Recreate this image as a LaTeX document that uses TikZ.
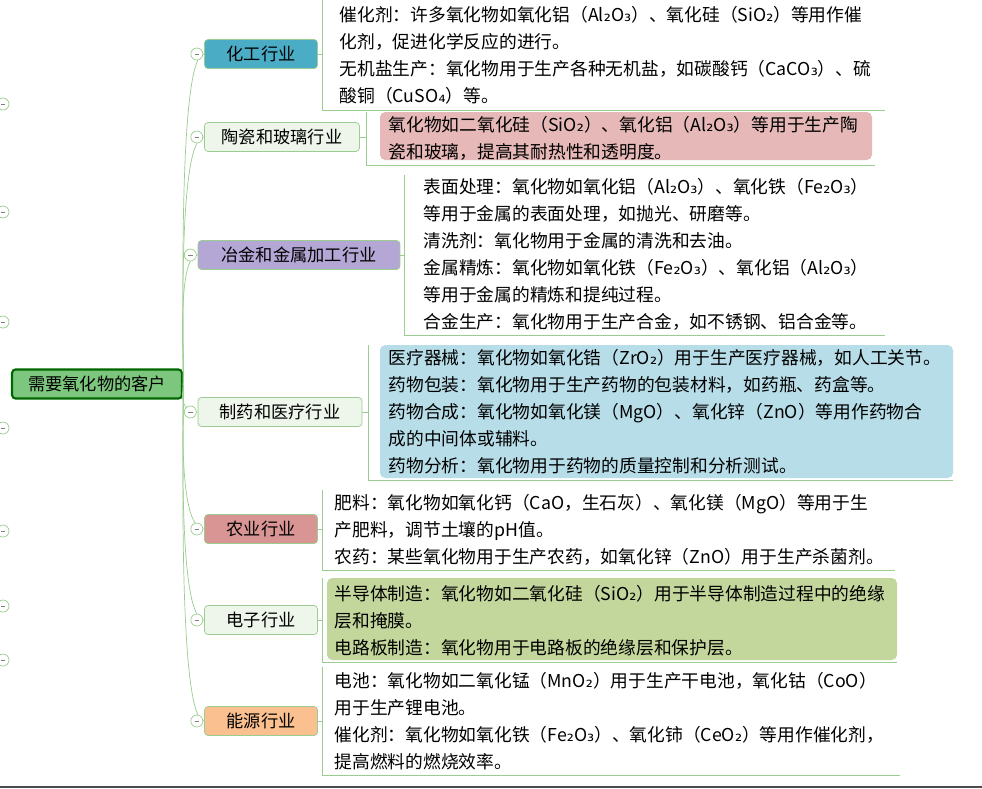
\documentclass[tikz,border=0pt]{standalone}
\usepackage{fontspec}
\newfontfamily\cjk{Noto Sans CJK SC}
\newfontfamily\subf{DejaVu Sans}
\newcommand\sbt[1]{{\subf #1}}
\usetikzlibrary{positioning}
\definecolor{lnk}{HTML}{9ACD8F}
\definecolor{rootc}{HTML}{7DC67D}
\definecolor{tealc}{HTML}{4BACC6}
\definecolor{purc}{HTML}{B4A7D6}
\definecolor{pinkc}{HTML}{D99594}
\definecolor{orac}{HTML}{FAC08F}
\definecolor{pale}{HTML}{EEF5EA}
\definecolor{rosec}{HTML}{E6B8B7}
\definecolor{bluec}{HTML}{B7DDE8}
\definecolor{olivc}{HTML}{C3D69B}
\tikzset{
  branch/.style={draw=lnk, rounded corners=2pt, minimum height=0.58cm, font=\cjk\fontsize{9.8}{12}\selectfont},
  leaf/.style={anchor=north west, align=left, inner sep=3pt, font=\cjk\fontsize{10.1}{15.3}\selectfont},
  knob/.style={draw=lnk, fill=white, circle, inner sep=0pt, minimum size=0.24cm,
    path picture={\draw[gray] ([xshift=-1.3pt]path picture bounding box.center) -- ([xshift=1.3pt]path picture bounding box.center);}},
  link/.style={draw=lnk, thin}
}
\begin{document}
\begin{tikzpicture}[x=0.02cm,y=-0.02cm]
\useasboundingbox (0,0) rectangle (982,788);
\fill[white] (0,0) rectangle (982,788);
\draw[black!70, line width=1.5pt] (0,787) -- (982,787);
% left side stubs
\foreach \yy in {104, 212, 322, 428, 531, 606, 660}
  \node[knob] at (3,\yy) {};
% root
\node[draw=black!60!green, line width=1.2pt, fill=rootc, rounded corners=2pt, minimum width=3.4cm, minimum height=0.58cm, font=\cjk\fontsize{9.8}{12}\selectfont] (root) at (97,384) {需要氧化物的客户};
% branches
\node[branch, fill=tealc, minimum width=2.26cm] (chem) at (261,54) {化工行业};
\node[branch, fill=pale, minimum width=3.1cm] (glass) at (282,137) {陶瓷和玻璃行业};
\node[branch, fill=purc, minimum width=4.04cm] (metal) at (299,255) {冶金和金属加工行业};
\node[branch, fill=pale, minimum width=3.28cm] (med) at (280,412) {制药和医疗行业};
\node[branch, fill=pinkc, minimum width=2.26cm] (farm) at (261,529) {农业行业};
\node[branch, fill=pale, minimum width=2.26cm] (elec) at (261,620) {电子行业};
\node[branch, fill=orac, minimum width=2.26cm] (energy) at (261,721) {能源行业};
\foreach \b in {chem, glass, metal, med, farm, elec, energy}
  \draw[link] (root.east) .. controls (185,384) and (175,0|-\b.west) .. (\b.west);
\foreach \b in {chem, glass, metal, med, farm, elec, energy}
  \node[knob, left=0.02cm of \b.west] {};
% leaves
\node[leaf] (t1) at (334,1) {催化剂：许多氧化物如氧化铝（Al\sbt{₂}O\sbt{₃}）、氧化硅（SiO\sbt{₂}）等用作催\\化剂，促进化学反应的进行。\\无机盐生产：氧化物用于生产各种无机盐，如碳酸钙（CaCO\sbt{₃}）、硫\\酸铜（CuSO\sbt{₄}）等。};
\fill[rosec, rounded corners=3pt] (380,112) rectangle (872,160);
\node[leaf] (t2) at (383,111) {氧化物如二氧化硅（SiO\sbt{₂}）、氧化铝（Al\sbt{₂}O\sbt{₃}）等用于生产陶\\瓷和玻璃，提高其耐热性和透明度。};
\node[leaf] (t3) at (418,173) {表面处理：氧化物如氧化铝（Al\sbt{₂}O\sbt{₃}）、氧化铁（Fe\sbt{₂}O\sbt{₃}）\\等用于金属的表面处理，如抛光、研磨等。\\清洗剂：氧化物用于金属的清洗和去油。\\金属精炼：氧化物如氧化铁（Fe\sbt{₂}O\sbt{₃}）、氧化铝（Al\sbt{₂}O\sbt{₃}）\\等用于金属的精炼和提纯过程。\\合金生产：氧化物用于生产合金，如不锈钢、铝合金等。};
\fill[bluec, rounded corners=3pt] (380,345) rectangle (953,478);
\node[leaf] (t4) at (383,344) {医疗器械：氧化物如氧化锆（ZrO\sbt{₂}）用于生产医疗器械，如人工关节。\\药物包装：氧化物用于生产药物的包装材料，如药瓶、药盒等。\\药物合成：氧化物如氧化镁（MgO）、氧化锌（ZnO）等用作药物合\\成的中间体或辅料。\\药物分析：氧化物用于药物的质量控制和分析测试。};
\node[leaf] (t5) at (329,489) {肥料：氧化物如氧化钙（CaO，生石灰）、氧化镁（MgO）等用于生\\产肥料，调节土壤的pH值。\\农药：某些氧化物用于生产农药，如氧化锌（ZnO）用于生产杀菌剂。};
\fill[olivc, rounded corners=3pt] (327,578) rectangle (897,660);
\node[leaf] (t6) at (329,580) {半导体制造：氧化物如二氧化硅（SiO\sbt{₂}）用于半导体制造过程中的绝缘\\层和掩膜。\\电路板制造：氧化物用于电路板的绝缘层和保护层。};
\node[leaf] (t7) at (329,667) {电池：氧化物如二氧化锰（MnO\sbt{₂}）用于生产干电池，氧化钴（CoO）\\用于生产锂电池。\\催化剂：氧化物如氧化铁（Fe\sbt{₂}O\sbt{₃}）、氧化铈（CeO\sbt{₂}）等用作催化剂，\\提高燃料的燃烧效率。};
% brackets
\draw[link] (chem.east) -- (322,54) (322,0) -- (322,110) -- (885,110);
\draw[link] (glass.east) -- (366,137) (366,112) -- (366,165) -- (875,165);
\draw[link] (metal.east) -- (404,255) (404,175) -- (404,335) -- (885,335);
\draw[link] (med.east) -- (368,412) (368,345) -- (368,480) -- (953,480);
\draw[link] (farm.east) -- (322,529) (322,490) -- (322,570) -- (895,570);
\draw[link] (elec.east) -- (322,620) (322,578) -- (322,662) -- (897,662);
\draw[link] (energy.east) -- (322,721) (322,667) -- (322,775) -- (900,775);
\end{tikzpicture}
\end{document}
